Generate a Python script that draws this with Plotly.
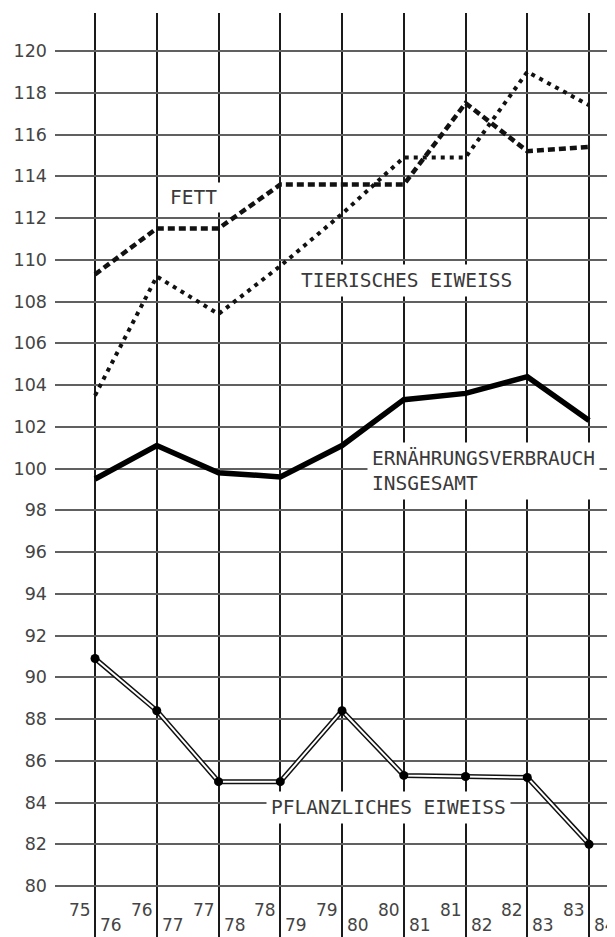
import plotly.graph_objects as go

# Data (index values)
periods_top = ["75", "76", "77", "78", "79", "80", "81", "82", "83"]
periods_bottom = ["76", "77", "78", "79", "80", "81", "82", "83", "84"]
x_pos = list(range(len(periods_top)))

fett = [109.3, 111.5, 111.5, 113.6, 113.6, 113.6, 117.5, 115.2, 115.4]
tierisches = [103.5, 109.2, 107.4, 109.7, 112.2, 114.9, 114.9, 119.0, 117.4]
insgesamt = [99.5, 101.1, 99.8, 99.6, 101.1, 103.3, 103.6, 104.4, 102.3]
pflanzlich = [90.9, 88.4, 85.0, 85.0, 88.4, 85.3, 85.25, 85.2, 82.0]

y_ticks = list(range(80, 121, 2))

fig = go.Figure()

fig.add_trace(go.Scatter(x=x_pos, y=fett, mode="lines",
                         line=dict(color="#111", width=4.5, dash="7px,4px"),
                         hoverinfo="skip", showlegend=False))
fig.add_trace(go.Scatter(x=x_pos, y=tierisches, mode="lines",
                         line=dict(color="#111", width=4, dash="4px,5px"),
                         hoverinfo="skip", showlegend=False))
fig.add_trace(go.Scatter(x=x_pos, y=insgesamt, mode="lines",
                         line=dict(color="#000", width=5.5),
                         hoverinfo="skip", showlegend=False))
# double line for Pflanzliches Eiweiss
fig.add_trace(go.Scatter(x=x_pos, y=pflanzlich, mode="lines",
                         line=dict(color="#111", width=5),
                         hoverinfo="skip", showlegend=False))
fig.add_trace(go.Scatter(x=x_pos, y=pflanzlich, mode="lines+markers",
                         line=dict(color="#fff", width=2),
                         marker=dict(color="#000", size=9),
                         hoverinfo="skip", showlegend=False))

label_font = dict(family="DejaVu Sans Mono, Liberation Mono, monospace",
                  size=19.5, color="#3a3a3a")
tick_font = dict(family="DejaVu Sans", size=17, color="#444")

annotations = []
for i, (t, b) in enumerate(zip(periods_top, periods_bottom)):
    annotations.append(dict(x=i, y=0.029, xref="x", yref="paper", text=t,
                            showarrow=False, xanchor="right", yanchor="middle",
                            xshift=-2, font=tick_font))
    annotations.append(dict(x=i, y=0.013, xref="x", yref="paper", text=b,
                            showarrow=False, xanchor="left", yanchor="middle",
                            xshift=3, font=tick_font))

annotations += [
    dict(x=1.59, y=113.0, xref="x", yref="y", text="FETT", showarrow=False,
         xanchor="center", yanchor="middle", font=label_font, bgcolor="white", borderpad=3),
    dict(x=5.05, y=109.03, xref="x", yref="y", text="TIERISCHES EIWEISS", showarrow=False,
         xanchor="center", yanchor="middle", font=label_font, bgcolor="white", borderpad=4),
    dict(x=4.40, y=99.88, xref="x", yref="y", text="ERNÄHRUNGSVERBRAUCH<br>INSGESAMT",
         showarrow=False, xanchor="left", yanchor="middle", align="left",
         font=label_font, bgcolor="white", borderpad=4),
    dict(x=4.745, y=83.74, xref="x", yref="y", text="PFLANZLICHES EIWEISS", showarrow=False,
         xanchor="center", yanchor="middle", font=label_font, bgcolor="white", borderpad=4),
]

# The page body adds an 8px margin, so the figure is sized/offset to compensate.
fig.update_layout(
    width=607, height=929,
    margin=dict(l=47, r=0, t=5, b=0),
    paper_bgcolor="white", plot_bgcolor="white",
    annotations=annotations,
    xaxis=dict(range=[-0.648, 8.42], tickvals=x_pos, showticklabels=False,
               showgrid=True, gridcolor="#1a1a1a", gridwidth=2, zeroline=False,
               showline=False, ticks=""),
    yaxis=dict(range=[77.56, 121.82], tickvals=y_ticks, ticktext=[str(v) for v in y_ticks],
               showgrid=True, gridcolor="#606060", gridwidth=1.5, zeroline=False,
               showline=False, ticks="", ticklabelstandoff=7,
               tickfont=dict(family="DejaVu Sans", size=17.5, color="#444")),
)

fig.write_html("out.html")
